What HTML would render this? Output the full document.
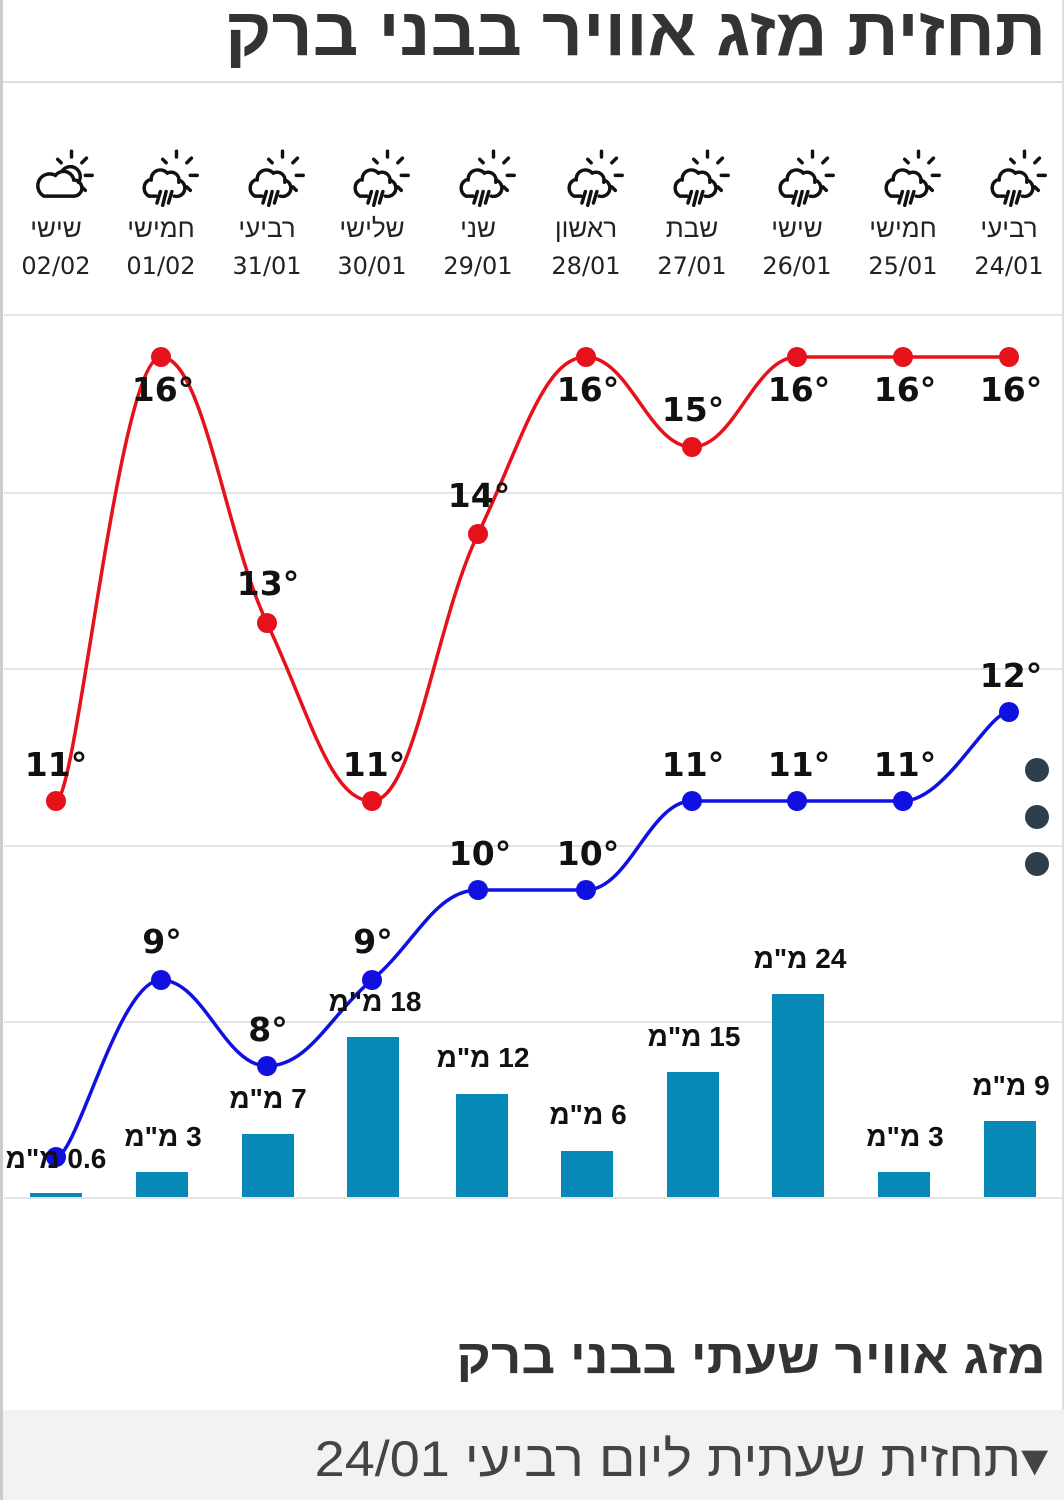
<!DOCTYPE html>
<html><head><meta charset="utf-8"><style>
body{margin:0;width:1064px;height:1500px;position:relative;background:#fff;font-family:"Liberation Sans","DejaVu Sans",sans-serif;overflow:hidden}
.a{position:absolute;white-space:nowrap}
.t{font-family:"DejaVu Sans",sans-serif;font-weight:bold;font-size:33px;color:#111;transform:translateX(-50%)}
.c{transform:translateX(-50%);font-size:26px;color:#222;text-align:center;line-height:37px}
.c span{font-family:"DejaVu Sans",sans-serif;font-size:24px}
.m{font-weight:bold;font-size:28px;color:#111;transform:translateX(-50%);direction:rtl}
</style></head><body>
<div class="a" style="left:0;top:0;width:3px;height:1500px;background:#ccc"></div>
<div class="a" style="right:0;top:0;width:2px;height:1410px;background:#ddd"></div>
<div class="a" style="right:18px;top:-7px;font-size:68px;font-weight:bold;color:#333;direction:rtl;transform:scaleX(1.05);transform-origin:right">תחזית מזג אוויר בבני ברק</div>
<div class="a" style="left:3px;top:81px;width:1059px;height:2px;background:#ddd"></div>

<svg class="a" style="left:0;top:0" width="1064" height="1500">
<defs>
<g id="ic" fill="none" stroke="#111" stroke-width="3" stroke-linecap="round" transform="scale(1.15)">
<path d="M-12,0 a8,8 0 0 1 14,-6 a7,7 0 0 1 10,8"/>
<path d="M-8,14 h-6 a8,8 0 0 1 0,-14 M8,14 a7,7 0 0 0 4,-14"/>
<path d="M-4,10 l-3,10 M1,10 l-3,12 M6,10 l-3,10"/>
<path d="M10,-20 v-5 M19,-15 l4,-4 M22,-4 h6 M19,6 l3,3 M1,-15 l-3,-3"/>
</g>
<g id="ic0" fill="none" stroke="#111" stroke-width="3" stroke-linecap="round" transform="scale(1.15)">
<path d="M-14,14 h26 a7,7 0 0 0 0,-14 a9,9 0 0 0 -16,-4 a7,7 0 0 0 -10,18z"/>
<path d="M2,-8 a8,8 0 0 1 14,10"/>
<path d="M10,-20 v-5 M19,-15 l4,-4 M22,-4 h6 M19,6 l3,3 M1,-15 l-3,-3"/>
</g>
</defs>
<use href="#ic0" x="60" y="180"/>
<use href="#ic" x="165" y="180"/><use href="#ic" x="271" y="180"/><use href="#ic" x="376" y="180"/><use href="#ic" x="482" y="180"/><use href="#ic" x="590" y="180"/><use href="#ic" x="696" y="180"/><use href="#ic" x="801" y="180"/><use href="#ic" x="907" y="180"/><use href="#ic" x="1013" y="180"/>
<g stroke="#e4e4e4" stroke-width="2">
<line x1="4" x2="1062" y1="315" y2="315"/><line x1="4" x2="1062" y1="493" y2="493"/><line x1="4" x2="1062" y1="669" y2="669"/><line x1="4" x2="1062" y1="846" y2="846"/><line x1="4" x2="1062" y1="1022" y2="1022"/><line x1="4" x2="1062" y1="1198" y2="1198"/>
</g>
<g fill="#0789b7">
<rect x="30" y="1193" width="52" height="4"/><rect x="136" y="1172" width="52" height="25"/><rect x="242" y="1134" width="52" height="63"/><rect x="347" y="1037" width="52" height="160"/><rect x="456" y="1094" width="52" height="103"/><rect x="561" y="1151" width="52" height="46"/><rect x="667" y="1072" width="52" height="125"/><rect x="772" y="994" width="52" height="203"/><rect x="878" y="1172" width="52" height="25"/><rect x="984" y="1121" width="52" height="76"/>
</g>
<path id="rp" fill="none" stroke="#e5121b" stroke-width="3.5"/>
<path id="bp" fill="none" stroke="#1010e0" stroke-width="3.5"/>
<g id="rd" fill="#e5121b"></g><g id="bd" fill="#1010e0"></g>
<g fill="#2d3e4c"><circle cx="1037" cy="770" r="12"/><circle cx="1037" cy="817" r="12"/><circle cx="1037" cy="864" r="12"/></g>
</svg>
<script>
var xs=[56,161,267,372,478,586,692,797,903,1009];
var ry=[801,357,623,801,534,357,447,357,357,357];
var by=[1157,980,1066,980,890,890,801,801,801,712];
function path(ys){var d="M"+xs[0]+","+ys[0];for(var i=0;i<9;i++){var p0=i?[xs[i-1],ys[i-1]]:[xs[i],ys[i]],p1=[xs[i],ys[i]],p2=[xs[i+1],ys[i+1]],p3=i<8?[xs[i+2],ys[i+2]]:p2;
var t=0.2;var c1=[p1[0]+(p2[0]-p0[0])*t,p1[1]+(p2[1]-p0[1])*t],c2=[p2[0]-(p3[0]-p1[0])*t,p2[1]-(p3[1]-p1[1])*t];
if((p1[1]-p0[1])*(p2[1]-p1[1])<=0||i==0)c1[1]=p1[1];if((p2[1]-p1[1])*(p3[1]-p2[1])<=0||i==8)c2[1]=p2[1];
d+=" C"+c1+" "+c2+" "+p2;}return d;}
document.getElementById("rp").setAttribute("d",path(ry));
document.getElementById("bp").setAttribute("d",path(by));
var ns="http://www.w3.org/2000/svg";
function dots(id,ys){var g=document.getElementById(id);ys.forEach(function(y,i){var c=document.createElementNS(ns,"circle");c.setAttribute("cx",xs[i]);c.setAttribute("cy",y);c.setAttribute("r",10);g.appendChild(c);});}
dots("rd",ry);dots("bd",by);
</script>

<div class="a c" style="left:56px;top:210px">שישי<br><span>02/02</span></div>
<div class="a c" style="left:161px;top:210px">חמישי<br><span>01/02</span></div>
<div class="a c" style="left:267px;top:210px">רביעי<br><span>31/01</span></div>
<div class="a c" style="left:372px;top:210px">שלישי<br><span>30/01</span></div>
<div class="a c" style="left:478px;top:210px">שני<br><span>29/01</span></div>
<div class="a c" style="left:586px;top:210px">ראשון<br><span>28/01</span></div>
<div class="a c" style="left:692px;top:210px">שבת<br><span>27/01</span></div>
<div class="a c" style="left:797px;top:210px">שישי<br><span>26/01</span></div>
<div class="a c" style="left:903px;top:210px">חמישי<br><span>25/01</span></div>
<div class="a c" style="left:1009px;top:210px">רביעי<br><span>24/01</span></div>

<div class="a t" style="left:56px;top:745px">11°</div>
<div class="a t" style="left:163px;top:370px">16°</div>
<div class="a t" style="left:268px;top:564px">13°</div>
<div class="a t" style="left:374px;top:745px">11°</div>
<div class="a t" style="left:479px;top:476px">14°</div>
<div class="a t" style="left:588px;top:370px">16°</div>
<div class="a t" style="left:693px;top:390px">15°</div>
<div class="a t" style="left:799px;top:370px">16°</div>
<div class="a t" style="left:905px;top:370px">16°</div>
<div class="a t" style="left:1011px;top:370px">16°</div>

<div class="a t" style="left:162px;top:922px">9°</div>
<div class="a t" style="left:268px;top:1010px">8°</div>
<div class="a t" style="left:373px;top:922px">9°</div>
<div class="a t" style="left:480px;top:834px">10°</div>
<div class="a t" style="left:588px;top:834px">10°</div>
<div class="a t" style="left:693px;top:745px">11°</div>
<div class="a t" style="left:799px;top:745px">11°</div>
<div class="a t" style="left:905px;top:745px">11°</div>
<div class="a t" style="left:1011px;top:656px">12°</div>

<div class="a m" style="left:56px;top:1143px">0.6 מ"מ</div>
<div class="a m" style="left:163px;top:1121px">3 מ"מ</div>
<div class="a m" style="left:268px;top:1083px">7 מ"מ</div>
<div class="a m" style="left:375px;top:986px">18 מ"מ</div>
<div class="a m" style="left:483px;top:1042px">12 מ"מ</div>
<div class="a m" style="left:588px;top:1099px">6 מ"מ</div>
<div class="a m" style="left:694px;top:1021px">15 מ"מ</div>
<div class="a m" style="left:800px;top:943px">24 מ"מ</div>
<div class="a m" style="left:905px;top:1121px">3 מ"מ</div>
<div class="a m" style="left:1011px;top:1070px">9 מ"מ</div>

<div class="a" style="right:18px;top:1330px;font-size:48px;font-weight:bold;color:#333;direction:rtl;transform:scaleX(1.1);transform-origin:right">מזג אוויר שעתי בבני ברק</div>
<div class="a" style="left:3px;top:1410px;width:1061px;height:90px;background:#f2f2f2"></div>
<div class="a" style="right:16px;top:1430px;font-size:50px;color:#444;direction:rtl;transform:scaleX(1.08);transform-origin:right">▾תחזית שעתית ליום רביעי 24/01</div>
</body></html>
